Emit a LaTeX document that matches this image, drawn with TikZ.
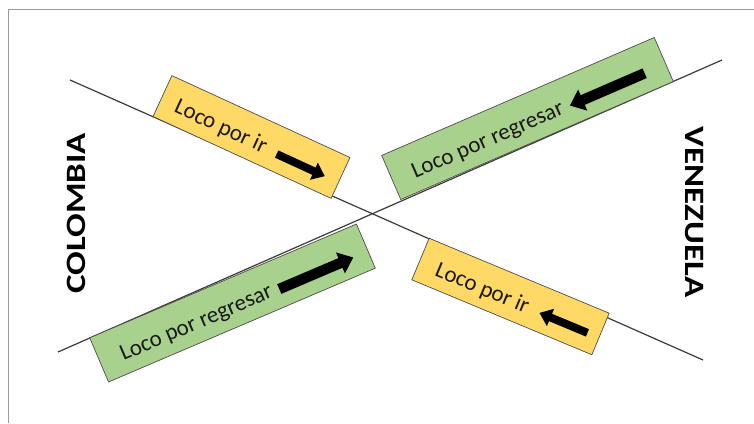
\documentclass[tikz,border=0pt]{standalone}
\usepackage{fontspec}
\usepackage{graphicx}
\setmainfont{Carlito}
\usetikzlibrary{arrows.meta}

\definecolor{signyellow}{HTML}{FFD966}
\definecolor{signgreen}{HTML}{A9D18E}
\definecolor{roadgray}{HTML}{3A3A3A}
\definecolor{framegray}{HTML}{9A9A9A}

\tikzset{
  x=1pt, y=1pt,
  signbox/.style={draw=black!70, line width=0.7pt, inner sep=0pt},
  yellowsign/.style={signbox, fill=signyellow, minimum height=45pt},
  greensign/.style={signbox, fill=signgreen, minimum height=48pt},
  signtext/.style={anchor=base west, inner sep=0pt, text=black!90,
    font=\fontsize{23}{23}\selectfont},
  smallarrow/.style={line width=8pt, -{Triangle[length=12pt,width=18pt]}},
  bigarrow/.style={line width=10.5pt, -{Triangle[length=14pt,width=22pt]}},
  road/.style={draw=roadgray, line width=1.2pt},
  country/.style={inner sep=0pt, font=\bfseries\fontsize{28}{28}\selectfont}
}

\begin{document}
\begin{tikzpicture}
  \useasboundingbox (0,0) rectangle (754,423);

  % partial frame
  \draw[framegray, line width=0.9pt] (8,0) -- (8,414) -- (754,414);

  % the two crossing roads
  \coordinate (roadAs) at (70,343);
  \coordinate (roadAe) at (703,63);
  \coordinate (roadBs) at (58,71);
  \coordinate (roadBe) at (722,363);
  \draw[road] (roadAs) -- (roadAe);
  \draw[road] (roadBs) -- (roadBe);

  % upper left sign
  \begin{scope}[shift={(251.5,286)}, rotate=-24.7, transform shape]
    \node[yellowsign, minimum width=196pt] (signUL) at (0,0) {};
    \node[signtext] (textUL) at (-82,-10) {Loco por ir};
    \coordinate (arrULs) at (30,-5);
    \coordinate (arrULe) at (83,-5);
    \draw[smallarrow] (arrULs) -- (arrULe);
  \end{scope}

  % upper right sign
  \begin{scope}[shift={(527.5,304.5)}, rotate=23.4, transform shape]
    \node[greensign, minimum width=297pt] (signUR) at (0,0) {};
    \node[signtext] (textUR) at (-127,-10.5) {Loco por regresar};
    \coordinate (arrURs) at (125.5,-5);
    \coordinate (arrURe) at (44,-5);
    \draw[bigarrow] (arrURs) -- (arrURe);
  \end{scope}

  % lower left sign
  \begin{scope}[shift={(232.5,120)}, rotate=23.1, transform shape]
    \node[greensign, minimum width=290pt] (signLL) at (0,0) {};
    \node[signtext] (textLL) at (-123,-10.5) {Loco por regresar};
    \coordinate (arrLLs) at (48.5,-5.5);
    \coordinate (arrLLe) at (129,-5.5);
    \draw[bigarrow] (arrLLs) -- (arrLLe);
  \end{scope}

  % lower right sign
  \begin{scope}[shift={(510.5,126.5)}, rotate=-22.6, transform shape]
    \node[yellowsign, minimum width=195pt] (signLR) at (0,0) {};
    \node[signtext] (textLR) at (-79,-10) {Loco por ir};
    \coordinate (arrLRs) at (85,-4);
    \coordinate (arrLRe) at (33,-4);
    \draw[smallarrow] (arrLRs) -- (arrLRe);
  \end{scope}

  % country names
  \node[country, rotate=90] (colombia) at (76,209.5) {\scalebox{1.25}[1]{COLOMBIA}};
  \node[country, rotate=-90] (venezuela) at (694,211) {\scalebox{1.25}[1]{VENEZUELA}};
\end{tikzpicture}
\end{document}
